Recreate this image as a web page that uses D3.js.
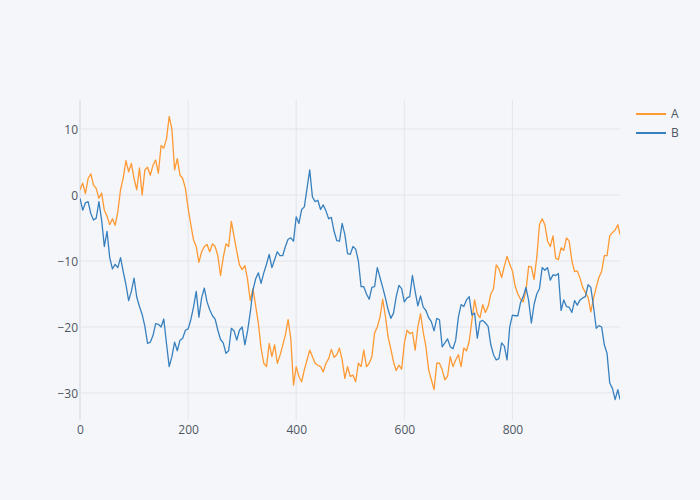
<!DOCTYPE html>
<html>
<head>
<meta charset="utf-8">
<script src="https://cdn.jsdelivr.net/npm/d3@7/dist/d3.min.js"></script>
<style>
  html, body { margin: 0; padding: 0; background: #F5F6F9; }
  svg { display: block; }
</style>
</head>
<body>
<svg id="chart" width="700" height="500"></svg>
<script>
const seriesNames = ["A", "B"];
const seriesColors = ["#ff9933", "#3780bf"];
const xIndex = d3.range(0, 1000, 5).concat([999]);

const valuesA = [
  0.8,1.8,0.2,2.5,3.2,1.5,1.0,-0.5,0.3,-2.3,
  -3.2,-4.5,-3.6,-4.6,-2.5,0.8,2.6,5.2,3.5,4.8,
  2.5,0.8,4.1,0.0,3.8,4.2,3.0,4.5,5.3,3.3,
  7.5,7.1,8.5,11.9,10.0,3.8,5.5,3.0,2.5,1.0,
  -2.0,-4.5,-6.8,-7.8,-10.2,-8.6,-7.8,-7.5,-8.6,-7.4,
  -7.8,-9.2,-12.2,-9.5,-7.4,-7.8,-4.0,-6.3,-8.5,-10.6,
  -11.3,-10.7,-12.8,-16.0,-14.2,-16.8,-19.5,-23.2,-25.5,-26.0,
  -22.5,-24.5,-22.7,-25.5,-24.3,-22.8,-21.2,-18.9,-21.8,-28.8,
  -26.0,-27.5,-28.3,-26.5,-25.0,-23.5,-24.5,-25.5,-25.8,-26.0,
  -26.8,-25.5,-24.8,-23.4,-24.6,-24.2,-23.2,-25.0,-27.8,-26.0,
  -27.5,-27.3,-28.3,-25.5,-26.0,-23.5,-26.0,-25.5,-24.5,-20.9,
  -20.0,-18.5,-15.8,-18.4,-21.5,-23.3,-25.3,-26.6,-25.8,-26.4,
  -22.5,-20.5,-21.0,-20.8,-23.5,-20.0,-18.0,-20.8,-23.0,-26.5,
  -28.0,-29.5,-25.5,-25.5,-26.5,-28.0,-27.5,-24.5,-26.0,-25.0,
  -24.2,-26.0,-23.2,-23.6,-22.2,-19.0,-15.9,-18.0,-18.6,-16.6,
  -17.8,-16.9,-15.0,-14.2,-10.6,-11.2,-12.5,-10.8,-9.3,-10.5,
  -11.5,-13.8,-15.0,-15.8,-16.2,-14.5,-10.8,-10.9,-12.8,-9.5,
  -4.5,-3.6,-4.5,-7.0,-7.8,-6.2,-9.6,-9.8,-8.0,-8.4,
  -6.5,-7.0,-10.0,-11.6,-11.5,-12.6,-14.0,-14.8,-15.5,-17.7,
  -15.7,-14.0,-12.5,-11.6,-9.2,-9.2,-6.2,-5.7,-5.3,-4.5,
  -6.0
];

const valuesB = [
  -0.5,-2.3,-1.2,-1.0,-2.8,-3.8,-3.5,-1.0,-3.8,-7.8,
  -5.5,-9.5,-11.2,-10.5,-11.0,-9.5,-11.6,-13.6,-16.0,-14.6,
  -12.6,-15.5,-16.9,-18.1,-19.9,-22.5,-22.3,-21.3,-19.5,-19.6,
  -20.0,-18.8,-22.5,-26.0,-24.5,-22.3,-23.6,-22.0,-21.7,-20.5,
  -20.3,-18.9,-17.0,-14.6,-18.5,-15.6,-14.1,-16.2,-17.4,-18.3,
  -18.8,-20.5,-21.9,-22.4,-24.0,-23.6,-20.2,-20.6,-22.0,-20.5,
  -20.0,-22.7,-20.6,-17.8,-14.4,-12.7,-11.8,-13.4,-11.8,-10.5,
  -9.0,-11.0,-9.8,-8.6,-9.2,-9.2,-7.8,-6.7,-6.5,-7.0,
  -3.3,-4.3,-2.2,-1.8,1.0,3.8,-0.3,-1.0,-0.8,-2.2,
  -1.5,-2.4,-3.6,-3.4,-5.5,-6.9,-7.0,-4.3,-6.0,-8.9,
  -9.0,-7.8,-8.2,-10.0,-13.9,-13.9,-15.0,-15.8,-14.0,-13.9,
  -11.0,-12.5,-14.0,-15.6,-17.4,-18.7,-17.9,-15.4,-13.7,-14.2,
  -16.2,-15.6,-15.4,-12.2,-14.6,-16.8,-15.3,-17.0,-17.5,-18.6,
  -19.2,-20.6,-18.7,-18.9,-23.0,-22.4,-21.8,-23.0,-23.3,-22.0,
  -18.5,-16.6,-16.9,-15.9,-15.4,-18.2,-17.9,-21.7,-19.2,-19.0,
  -19.4,-19.9,-22.7,-24.2,-25.0,-24.8,-22.4,-22.9,-25.0,-20.0,
  -18.2,-18.3,-18.3,-16.3,-15.4,-14.0,-16.0,-19.4,-16.6,-15.0,
  -14.2,-11.0,-11.4,-11.0,-12.9,-12.1,-12.2,-11.9,-17.5,-15.9,
  -16.9,-17.0,-17.8,-16.0,-16.7,-15.9,-15.6,-15.4,-13.6,-14.0,
  -16.9,-20.2,-19.8,-20.0,-22.7,-24.0,-28.5,-29.3,-31.0,-29.5,
  -31.0
];

const xTicks = [0, 200, 400, 600, 800];
const yTicks = [-30, -20, -10, 0, 10];

// ---- layout ----
const W = 700, H = 500;
const margin = { left: 80, right: 80, top: 100, bottom: 80 };
const bg = "#F5F6F9", gridColor = "#E1E5ED", textColor = "#4D5663";
const font = "'Open Sans', verdana, arial, sans-serif";

const svg = d3.select("#chart");
svg.append("rect").attr("width", W).attr("height", H).attr("fill", bg);

const x = d3.scaleLinear().domain([0, 999]).range([margin.left, W - margin.right]);
const y = d3.scaleLinear().domain([-34.1, 14.4]).range([H - margin.bottom, margin.top]);

// grid
const grid = svg.append("g");
grid.selectAll("line.gx").data(xTicks.filter(d => d !== 0)).join("line")
  .attr("x1", d => x(d)).attr("x2", d => x(d))
  .attr("y1", margin.top).attr("y2", H - margin.bottom)
  .attr("stroke", gridColor).attr("stroke-width", 1);
grid.selectAll("line.gy").data(yTicks).join("line")
  .attr("x1", margin.left).attr("x2", W - margin.right)
  .attr("y1", d => y(d)).attr("y2", d => y(d))
  .attr("stroke", gridColor).attr("stroke-width", 1);
// x zero line
grid.append("line")
  .attr("x1", x(0)).attr("x2", x(0))
  .attr("y1", margin.top).attr("y2", H - margin.bottom)
  .attr("stroke", gridColor).attr("stroke-width", 2);

// axes (labels only)
const xAxis = d3.axisBottom(x).tickValues(xTicks).tickSize(0).tickPadding(0).tickFormat(d3.format("d"));
const gx = svg.append("g").attr("transform", `translate(0,${H - margin.bottom})`).call(xAxis);
gx.select(".domain").remove();
gx.selectAll("text").attr("dy", null).attr("y", 14).attr("dominant-baseline", "auto")
  .attr("fill", textColor).style("font-family", font).style("font-size", "12px");

const fmt = d => (d < 0 ? "\u2212" + Math.abs(d) : String(d));
const yAxis = d3.axisLeft(y).tickValues(yTicks).tickSize(0).tickPadding(0).tickFormat(fmt);
const gy = svg.append("g").attr("transform", `translate(${margin.left - 2},0)`).call(yAxis);
gy.select(".domain").remove();
gy.selectAll("text").attr("dy", "0.35em")
  .attr("fill", textColor).style("font-family", font).style("font-size", "12px");

// lines
const clip = svg.append("clipPath").attr("id", "plotclip").append("rect")
  .attr("x", margin.left).attr("y", margin.top)
  .attr("width", W - margin.left - margin.right).attr("height", H - margin.top - margin.bottom);

const series = [valuesA, valuesB];
const line = d3.line().x((d, i) => x(xIndex[i])).y(d => y(d));
const plot = svg.append("g").attr("clip-path", "url(#plotclip)");
series.forEach((vals, k) => {
  plot.append("path").datum(vals)
    .attr("d", line)
    .attr("fill", "none")
    .attr("stroke", seriesColors[k])
    .attr("stroke-width", 1.3)
    .attr("stroke-linejoin", "round");
});

// legend
const legend = svg.append("g").attr("transform", "translate(636,114)");
seriesNames.forEach((name, k) => {
  const g = legend.append("g").attr("transform", `translate(0,${k * 19})`);
  g.append("line").attr("x1", 0).attr("x2", 30).attr("y1", 0).attr("y2", 0)
    .attr("stroke", seriesColors[k]).attr("stroke-width", 2);
  g.append("text").attr("x", 35).attr("y", 0).attr("dy", "0.35em")
    .attr("fill", textColor).style("font-family", font).style("font-size", "12px")
    .text(name);
});
</script>
</body>
</html>
